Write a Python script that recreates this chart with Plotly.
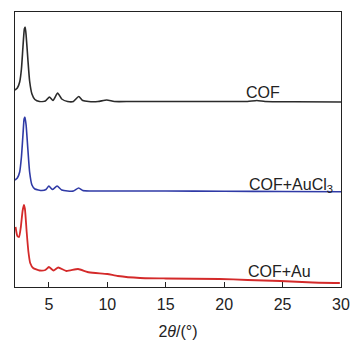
import plotly.graph_objects as go

# 2theta (degrees) and offset intensity (a.u.)
cof_x = [2.1, 2.3, 2.5, 2.65, 2.78, 2.9, 2.97, 3.05, 3.2, 3.35, 3.55, 3.8, 4.2, 4.7, 5.05, 5.35, 5.75, 6.1, 6.6, 7.1, 7.55, 7.9, 8.4, 9.2, 9.95, 10.6, 12, 15, 20, 22, 22.8, 23.5, 26, 30]
cof_y = [197, 199, 205, 218, 240, 258, 260, 252, 228, 206, 193, 187.5, 185.5, 186, 190, 186.5, 194, 188, 185.5, 185.5, 190.5, 186.5, 185.5, 185.5, 187, 185.5, 185.5, 185.5, 185.5, 185.5, 186.5, 185.5, 185.2, 185]

aucl3_x = [2.1, 2.3, 2.5, 2.65, 2.78, 2.88, 2.95, 3.05, 3.2, 3.35, 3.55, 3.8, 4.4, 4.75, 5.0, 5.3, 5.7, 6.1, 6.6, 7.1, 7.55, 7.9, 8.5, 10, 15, 20, 25, 30]
aucl3_y = [107, 109, 115, 130, 152, 168, 170, 162, 138, 115, 102, 98, 96.5, 97.5, 101, 97.5, 101, 97, 96, 96, 99, 96.5, 96, 96, 96, 95.8, 95.5, 95.3]

au_x = [2.15, 2.3, 2.45, 2.6, 2.75, 2.86, 2.95, 3.1, 3.25, 3.4, 3.65, 4.2, 4.7, 5.0, 5.4, 5.8, 6.5, 7.5, 8.3, 9.0, 10.0, 10.9, 12.8, 15, 19.6, 22, 24.8, 27.6, 29.9]
au_y = [60, 51, 50, 60, 76, 82, 78, 55, 35, 24, 19, 16.5, 17, 20, 16.5, 19.5, 16, 18, 15, 14, 13, 11, 9, 8.5, 8, 7, 6, 4.5, 4]

tick_vals = [5, 10, 15, 20, 25, 30]
labels = ["COF", "COF+AuCl<sub>3</sub>", "COF+Au"]

fig = go.Figure()
fig.add_trace(go.Scatter(x=cof_x, y=cof_y, mode="lines", line=dict(color="#2b2b2b", width=1.6, shape="spline", smoothing=0.5)))
fig.add_trace(go.Scatter(x=aucl3_x, y=aucl3_y, mode="lines", line=dict(color="#2f3aa6", width=1.6, shape="spline", smoothing=0.5)))
fig.add_trace(go.Scatter(x=au_x, y=au_y, mode="lines", line=dict(color="#d42a2a", width=1.8, shape="spline", smoothing=0.5)))

font_fam = "Liberation Sans, Arial, sans-serif"
ann_pos = [(23.3, 195), (25.7, 102), (24.7, 16)]
for (ax, ay), t in zip(ann_pos, labels):
    fig.add_annotation(x=ax, y=ay, xref="x", yref="y", text=t, showarrow=False,
                       font=dict(size=16, color="#222", family=font_fam))

fig.update_layout(
    width=354, height=340,
    margin=dict(l=15, r=13, t=12, b=53, autoexpand=False),
    plot_bgcolor="white", paper_bgcolor="white",
    showlegend=False,
    font=dict(family=font_fam, size=16, color="#222"),
)
fig.update_xaxes(range=[2.1, 30], tickvals=tick_vals, ticks="inside", ticklen=5, tickwidth=1.3,
                 tickcolor="#222", showline=True, linecolor="#222", linewidth=1.3, mirror=True,
                 showgrid=False, zeroline=False, automargin=False, ticklabelstandoff=3,
                 title=dict(text="2<i>θ</i>/(°)", standoff=14, font=dict(size=16)),
                 tickfont=dict(size=16))
fig.update_yaxes(range=[0, 275], showticklabels=False, ticks="", showline=True, linecolor="#222",
                 linewidth=1.3, mirror=True, showgrid=False, zeroline=False, automargin=False)

fig.write_html("out.html", config={"displayModeBar": False},
               post_script="document.body.style.margin='0';document.body.style.overflow='hidden';")
